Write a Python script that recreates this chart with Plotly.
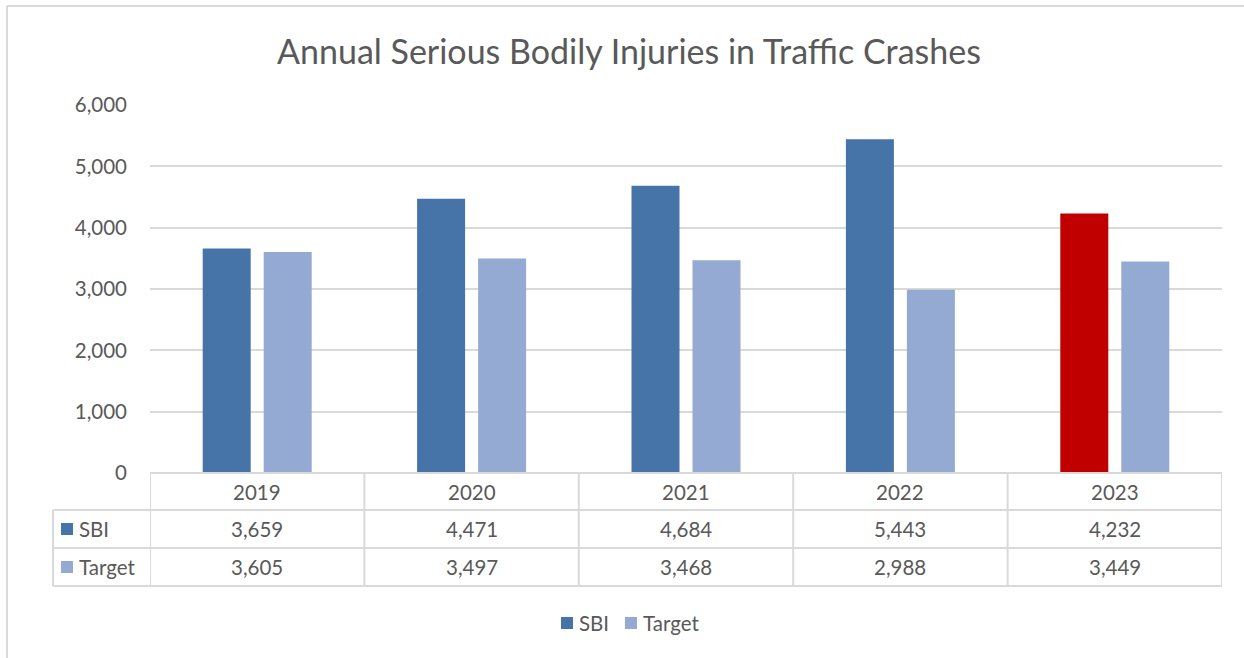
import plotly.graph_objects as go

years = ["2019", "2020", "2021", "2022", "2023"]
sbi = [3659, 4471, 4684, 5443, 4232]
target = [3605, 3497, 3468, 2988, 3449]
sbi_colors = ["#4673A8", "#4673A8", "#4673A8", "#4673A8", "#C00000"]
series_names = ["SBI", "Target"]

BLUE = "#4673A8"
LIGHT = "#95AAD3"
TXT = "#595959"
GRID = "#D9D9D9"
FONT = "Lato"
FS = 20.5

W, H = 1244, 658
L, R, T, B = 150, 22, 105, 185
pw, ph = W - L - R, H - T - B


def px_x(p):
    return (p - L) / pw


def px_y(p):
    return (H - B - p) / ph


fig = go.Figure()
fig.add_trace(go.Bar(x=list(range(len(years))), y=sbi, name=series_names[0],
                     marker=dict(color=sbi_colors, line=dict(width=0))))
fig.add_trace(go.Bar(x=list(range(len(years))), y=target, name=series_names[1],
                     marker=dict(color=LIGHT, line=dict(width=0))))

shapes = []
ann = []
n = len(years)
row_y = [473, 510, 548, 586]
line = dict(color=GRID, width=2)
# horizontal lines
shapes.append(dict(type="line", xref="paper", yref="paper", x0=0, x1=1,
                   y0=px_y(row_y[0]), y1=px_y(row_y[0]), line=line))
for yy in row_y[1:]:
    shapes.append(dict(type="line", xref="paper", yref="paper", x0=px_x(53), x1=1,
                       y0=px_y(yy), y1=px_y(yy), line=line))
# vertical lines
shapes.append(dict(type="line", xref="paper", yref="paper", x0=px_x(53), x1=px_x(53),
                   y0=px_y(row_y[1]), y1=px_y(row_y[3]), line=line))
for i in range(n + 1):
    xx = i - 0.5
    shapes.append(dict(type="line", xref="x", yref="paper", x0=xx, x1=xx,
                       y0=px_y(row_y[0]), y1=px_y(row_y[3]), line=line))

centers = [(row_y[k] + row_y[k + 1]) / 2 for k in range(3)]
tf = dict(size=FS, color=TXT, family=FONT)
for i, yr in enumerate(years):
    ann.append(dict(x=i, y=px_y(centers[0]), xref="x", yref="paper", text=yr,
                    yanchor="middle", showarrow=False, font=tf))
    ann.append(dict(x=i, y=px_y(centers[1]), xref="x", yref="paper", text=f"{sbi[i]:,}",
                    yanchor="middle", showarrow=False, font=tf))
    ann.append(dict(x=i, y=px_y(centers[2]), xref="x", yref="paper", text=f"{target[i]:,}",
                    yanchor="middle", showarrow=False, font=tf))

for k, (lab, col) in enumerate(zip(series_names, [BLUE, LIGHT])):
    cy = centers[k + 1]
    shapes.append(dict(type="rect", xref="paper", yref="paper",
                       x0=px_x(61), x1=px_x(73), y0=px_y(cy + 6), y1=px_y(cy - 6),
                       fillcolor=col, line=dict(width=0)))
    ann.append(dict(x=px_x(77), y=px_y(cy), xref="paper", yref="paper", text=lab,
                    xanchor="left", yanchor="middle", showarrow=False, font=tf))

# bottom legend (drawn manually to match spacing)
leg_y = 623
for lab, col, sx in zip(series_names, [BLUE, LIGHT], [561, 625]):
    shapes.append(dict(type="rect", xref="paper", yref="paper",
                       x0=px_x(sx), x1=px_x(sx + 12), y0=px_y(leg_y + 6), y1=px_y(leg_y - 6),
                       fillcolor=col, line=dict(width=0)))
    ann.append(dict(x=px_x(sx + 16), y=px_y(leg_y), xref="paper", yref="paper", text=lab,
                    xanchor="left", yanchor="middle", showarrow=False, font=tf))

# outer chart border (left and top)
shapes.append(dict(type="line", xref="paper", yref="paper", x0=px_x(7), x1=px_x(7),
                   y0=px_y(6), y1=px_y(H + 5), line=dict(color=GRID, width=2)))
shapes.append(dict(type="line", xref="paper", yref="paper", x0=px_x(7), x1=px_x(W + 5),
                   y0=px_y(6), y1=px_y(6), line=dict(color=GRID, width=2)))

fig.update_layout(
    width=W, height=H,
    margin=dict(l=L, r=R, t=T, b=B),
    paper_bgcolor="white", plot_bgcolor="white",
    title=dict(text="Annual Serious Bodily Injuries in Traffic Crashes",
               x=629 / W, xanchor="center", y=1 - 52 / H, yanchor="middle",
               font=dict(size=34, color=TXT, family=FONT)),
    barmode="group", bargap=0.431, bargroupgap=0.213,
    xaxis=dict(range=[-0.5, n - 0.5], showticklabels=False, showgrid=False,
               zeroline=False, showline=False, ticks=""),
    yaxis=dict(range=[0, 6000], dtick=1000, tickformat=",", gridcolor=GRID,
               gridwidth=1.5, zeroline=False, showline=False, ticks="",
               tickfont=tf, ticklabelstandoff=22),
    showlegend=False,
    shapes=shapes, annotations=ann,
)

fig.write_html("out.html", config={"displayModeBar": False},
               post_script="document.body.style.margin='0';document.body.style.overflow='hidden';")
